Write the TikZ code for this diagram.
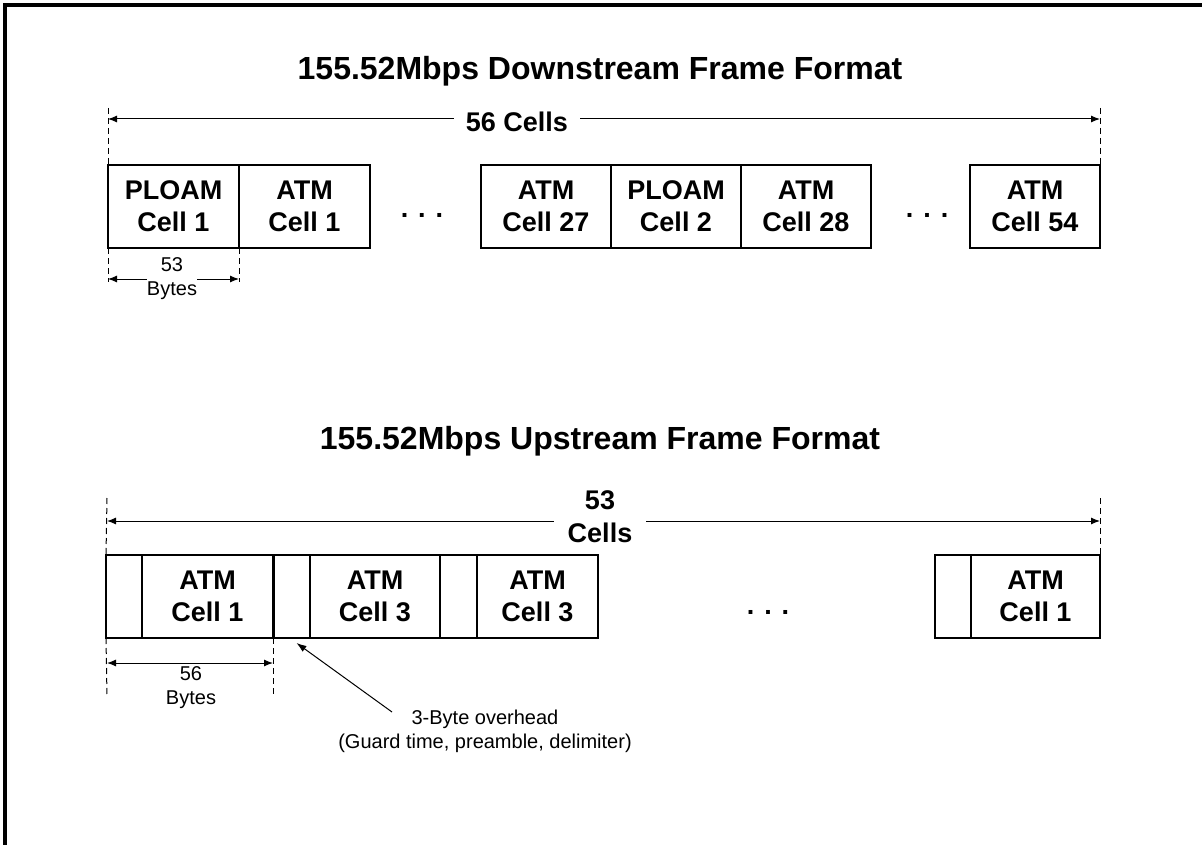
\documentclass[tikz,border=0pt]{standalone}
\usepackage{fontspec}
\setmainfont{Liberation Sans}
\usetikzlibrary{arrows.meta, positioning, calc}
\tikzset{
  cellbox/.style={rectangle, draw=black, line width=1.2pt, minimum height=83pt,
                  inner sep=0pt, outer sep=0pt, align=center,
                  font=\fontsize{27}{32}\selectfont\bfseries},
  gapbox/.style={cellbox, minimum width=36pt},
  framettl/.style={font=\fontsize{32}{36}\selectfont\bfseries},
  dimlbl/.style={fill=white, align=center, inner xsep=12pt, inner ysep=0pt,
                 font=\fontsize{27}{33}\selectfont\bfseries},
  bytelbl/.style={align=center, inner sep=0pt, font=\fontsize{20}{24}\selectfont},
  dotsrow/.style={inner sep=0pt, font=\fontsize{27}{32}\selectfont\bfseries},
  dimline/.style={{Latex[length=9pt,width=7pt]}-{Latex[length=9pt,width=7pt]}, line width=1pt},
  guide/.style={dash pattern=on 6pt off 4pt, line width=1pt},
  pointer/.style={-{Latex[length=10pt,width=7pt]}, line width=1pt}
}
\newcommand{\threedots}{.\hspace{10pt}.\hspace{10pt}.}

\begin{document}
\begin{tikzpicture}[x=1pt, y=1pt]
    \useasboundingbox (0,0) rectangle (1202,-845);
    \draw[line width=3.5pt] (5,-845) |- (1202,-5);

    % downstream frame
    \node[framettl] (dsttl) at (600,-71) {155.52Mbps Downstream Frame Format};
    \node[cellbox, minimum width=131pt, anchor=north west] (ploam1) at (108,-165) {PLOAM\\Cell 1};
    \node[cellbox, minimum width=131pt, right=0pt of ploam1] (atm1) {ATM\\Cell 1};
    \node[dotsrow] (dotsA) at (422,-215) {\threedots};
    \node[cellbox, minimum width=130pt, anchor=north west] (atm27) at (481,-165) {ATM\\Cell 27};
    \node[cellbox, minimum width=130pt, right=0pt of atm27] (ploam2) {PLOAM\\Cell 2};
    \node[cellbox, minimum width=130pt, right=0pt of ploam2] (atm28) {ATM\\Cell 28};
    \node[dotsrow] (dotsB) at (927,-215) {\threedots};
    \node[cellbox, minimum width=130pt, anchor=north west] (atm54) at (970,-165) {ATM\\Cell 54};

    \coordinate (dsL) at (108,-119);
    \coordinate (dsR) at (1100,-119);
    \draw[guide] ([yshift=11pt]dsL) -- (ploam1.north west);
    \draw[guide] ([yshift=11pt]dsR) -- (atm54.north east);
    \draw[dimline] (dsL) -- (dsR);
    \node[dimlbl] (dscells) at (517,-122) {56 Cells};

    \coordinate (bL) at (108,-279);
    \coordinate (bR) at (239,-279);
    \draw[guide] (ploam1.south west) -- ([yshift=-3pt]bL);
    \draw[guide] (ploam1.south east) -- ([yshift=-3pt]bR);
    \draw[dimline] (bL) -- (bR);
    \node[bytelbl, fill=white] (dsbytes) at (172,-279) {53\\Bytes};

    % upstream frame
    \node[framettl] (usttl) at (600,-441) {155.52Mbps Upstream Frame Format};
    \node[gapbox, anchor=north west] (ovh1) at (106,-555) {};
    \node[cellbox, minimum width=131pt, right=0pt of ovh1] (uatm1) {ATM\\Cell 1};
    \node[gapbox, minimum width=37pt, right=0pt of uatm1] (ovh2) {};
    \node[cellbox, minimum width=130pt, right=0pt of ovh2] (uatm3) {ATM\\Cell 3};
    \node[gapbox, minimum width=37pt, right=0pt of uatm3] (ovh3) {};
    \node[cellbox, minimum width=121pt, right=0pt of ovh3] (uatm3b) {ATM\\Cell 3};
    \node[dotsrow] (dotsC) at (768,-612) {\threedots};
    \node[gapbox, anchor=north west] (ovh4) at (935,-555) {};
    \node[cellbox, minimum width=129pt, right=0pt of ovh4] (uatm1b) {ATM\\Cell 1};
    \draw[line width=3pt] (uatm1.north east) -- (uatm1.south east);

    \coordinate (usL) at (107,-521);
    \coordinate (usR) at (1100,-521);
    \draw[guide] ([yshift=23pt]usL) -- (ovh1.north west);
    \draw[guide] ([yshift=23pt]usR) -- (uatm1b.north east);
    \draw[dimline] (usL) -- (usR);
    \node[dimlbl, inner xsep=14pt] (uscells) at (600,-517) {53\\Cells};

    \coordinate (ubL) at (107,-663);
    \coordinate (ubR) at (273,-663);
    \draw[guide] (ovh1.south west) -- ([yshift=-34pt]ubL);
    \draw[guide] (uatm1.south east) -- ([yshift=-34pt]ubR);
    \draw[dimline] (ubL) -- (ubR);
    \node[bytelbl] (usbytes) at (191,-688) {56\\Bytes};

    \node[bytelbl] (ovhnote) at (485,-731) {3-Byte overhead\\(Guard time, preamble, delimiter)};
    \coordinate (ovhtail) at (392,-712);
    \draw[pointer] (ovhtail) -- ([shift={(5pt,-5pt)}]ovh2.south);
\end{tikzpicture}
\end{document}
